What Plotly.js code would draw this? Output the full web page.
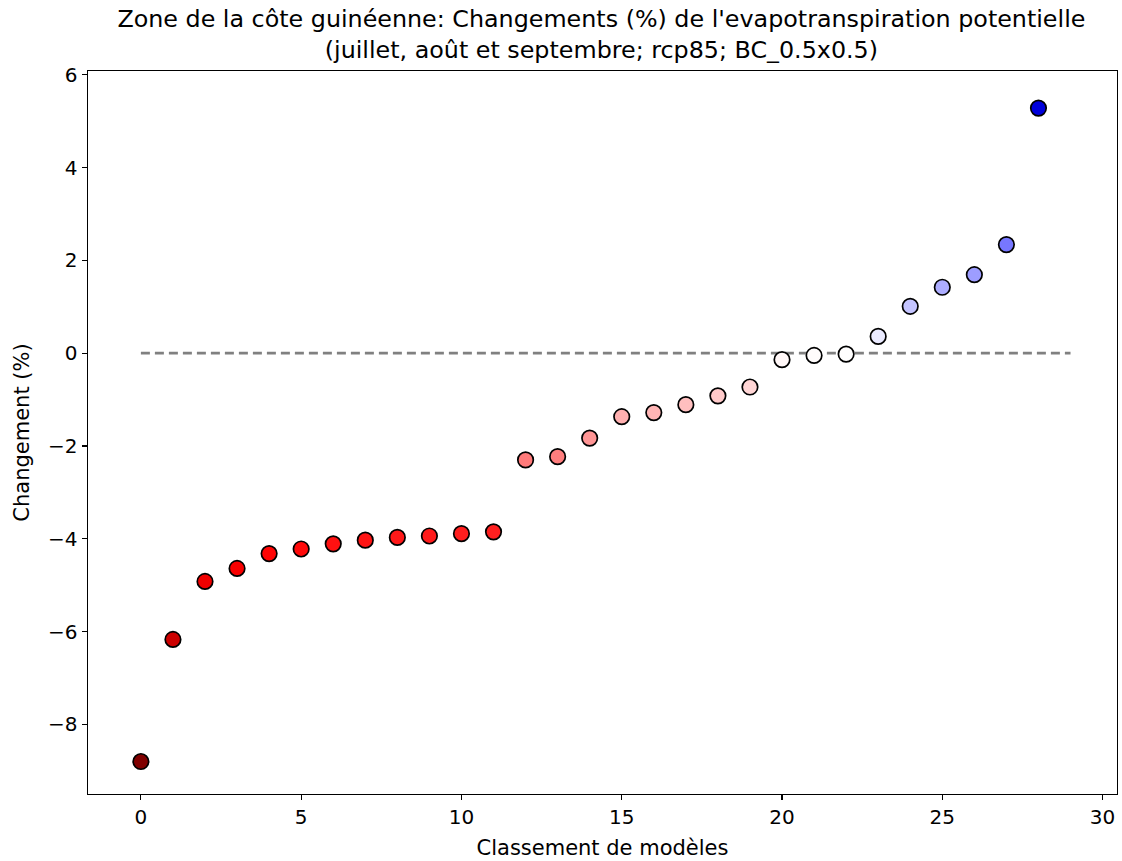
<!DOCTYPE html>
<html>
<head>
<meta charset="utf-8">
<script src="https://cdn.plot.ly/plotly-3.0.1.min.js"></script>
<style>html,body{margin:0;padding:0;background:#fff;}</style>
</head>
<body>
<div id="chart" style="width:1122px;height:861px;"></div>
<script>
// Model rank (x) and change in potential evapotranspiration (%) (y)
const ranks = [0,1,2,3,4,5,6,7,8,9,10,11,12,13,14,15,16,17,18,19,20,21,22,23,24,25,26,27,28];
const changes = [-8.80,-6.17,-4.92,-4.64,-4.32,-4.22,-4.11,-4.03,-3.97,-3.94,-3.89,-3.85,
                 -2.30,-2.23,-1.83,-1.37,-1.28,-1.11,-0.92,-0.73,-0.14,-0.05,-0.02,
                 0.36,1.01,1.42,1.69,2.34,5.28];
const zeroLineX = [0, 29];
const zeroLineY = [0, 0];
const xTicks = [0,5,10,15,20,25,30];
const yTicks = [-8,-6,-4,-2,0,2,4,6];

const cmax = Math.max(...changes.map(Math.abs));
// seismic colormap reversed (negative = red, positive = blue)
const seismicR = [[0,'rgb(128,0,0)'],[0.25,'rgb(255,0,0)'],[0.5,'rgb(255,255,255)'],[0.75,'rgb(0,0,255)'],[1,'rgb(0,0,77)']];

const traces = [
  {x: zeroLineX, y: zeroLineY, mode:'lines', line:{color:'#808080', width:2.6, dash:'9px,5px'}, hoverinfo:'skip', showlegend:false},
  {x: ranks, y: changes, mode:'markers', showlegend:false,
   marker:{size:15.5, color: changes, colorscale: seismicR, cmin:-cmax, cmax:cmax, showscale:false,
           line:{color:'#000', width:1.7}}}
];

const F = 'DejaVu Sans, sans-serif';
const layout = {
  width:1122, height:861,
  paper_bgcolor:'#fff', plot_bgcolor:'#fff',
  margin:{l:88, r:5, t:71, b:67},
  font: {family:F, size:20, color:'#000'},
  title:{text:"Zone de la côte guinéenne: Changements (%) de l'evapotranspiration potentielle<br>(juillet, août et septembre; rcp85; BC_0.5x0.5)",
         x:0.536, xanchor:'center', yref:'container', y:1-27/861, yanchor:'middle', font:{family:F, size:23.8, color:'#000'}},
  xaxis:{range:[-1.65,30.45], tickvals:xTicks, ticktext:xTicks.map(String), ticks:'outside', ticklen:5, tickwidth:1.2, tickcolor:'#000',
         tickfont:{family:F, size:20, color:'#000'},
         showline:true, linecolor:'#000', linewidth:1.4, mirror:true, showgrid:false, zeroline:false,
         title:{text:'Classement de modèles', font:{family:F, size:21, color:'#000'}, standoff:12}},
  yaxis:{range:[-9.5,6.08], tickvals:yTicks, ticktext:yTicks.map(v=>v<0?'\u2212'+Math.abs(v):String(v)), ticks:'outside', ticklen:5, tickwidth:1.2, tickcolor:'#000',
         tickfont:{family:F, size:20, color:'#000'},
         showline:true, linecolor:'#000', linewidth:1.4, mirror:true, showgrid:false, zeroline:false,
         title:{text:'Changement (%)', font:{family:F, size:21, color:'#000'}, standoff:12}}
};
Plotly.newPlot('chart', traces, layout, {displayModeBar:false, staticPlot:true});
</script>
</body>
</html>
